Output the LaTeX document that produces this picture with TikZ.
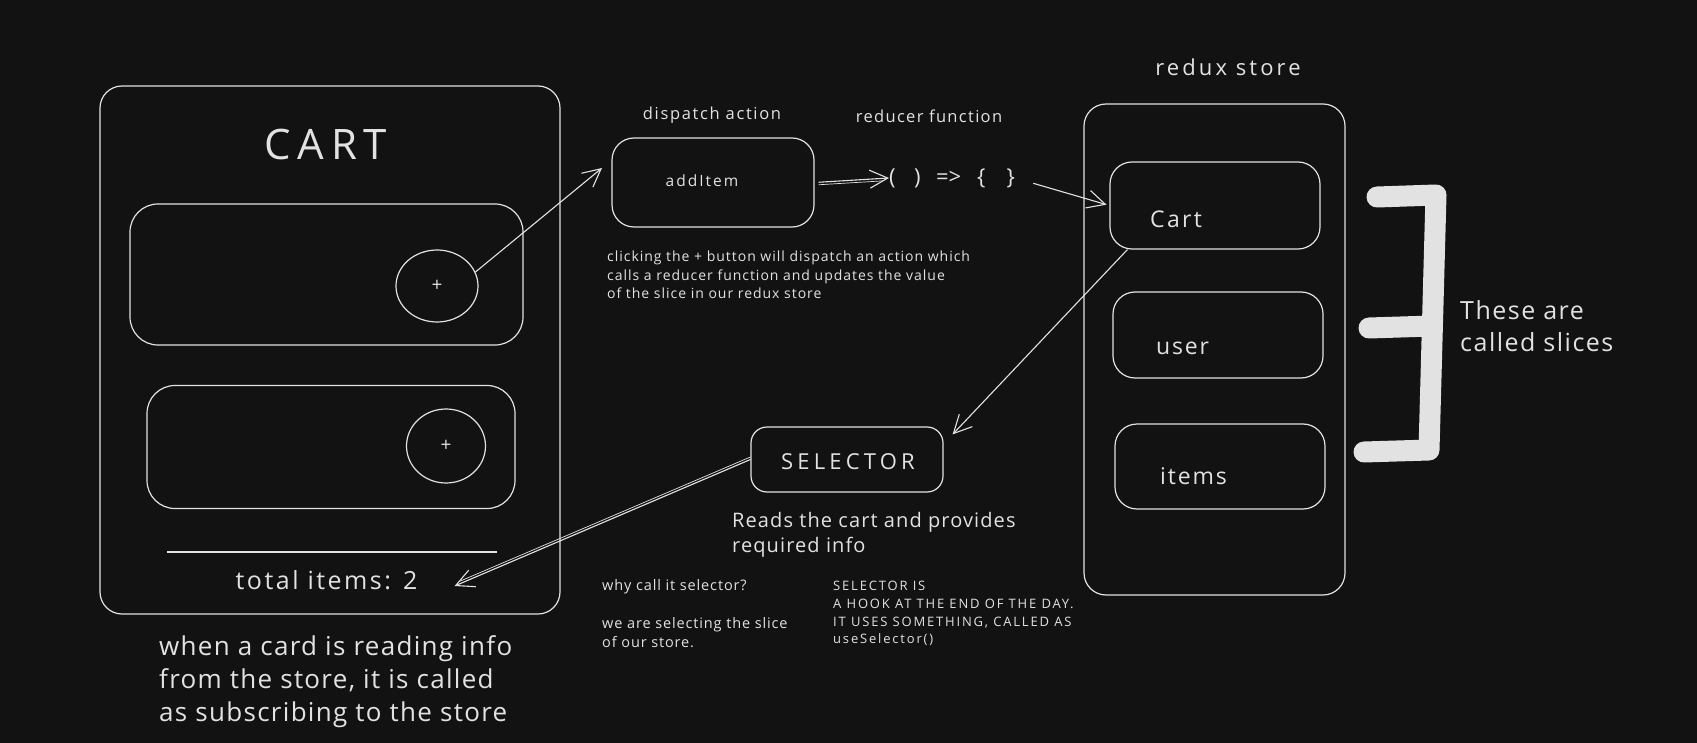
\documentclass[tikz,border=0pt]{standalone}
\usepackage{fontspec}
\setmainfont{Open Sans}
\usetikzlibrary{arrows.meta,shapes.geometric}
\definecolor{bg}{HTML}{121212}
\definecolor{ink}{HTML}{E2E2E2}
\newcommand{\fsz}[3]{\fontsize{#1}{#2}\selectfont\addfontfeatures{LetterSpace=#3}}
\begin{document}
\begin{tikzpicture}[x=1pt,y=-1pt,
  box/.style={draw=ink, line width=1.2pt, rounded corners=22pt, inner sep=0pt},
  ring/.style={draw=ink, line width=1.2pt, ellipse, inner sep=0pt},
  txt/.style={text=ink, inner sep=0pt},
  arr/.style={draw=ink, line width=1.1pt, -{Straight Barb[length=18pt,width=18pt]}},
  ghost/.style={draw=ink, line width=0.7pt},
  brace/.style={draw=ink, line width=21pt, line cap=round, line join=round},
]
\fill[bg] (0,0) rectangle (1697,743);
\useasboundingbox (0,0) rectangle (1697,743);

% cart
\node[box, minimum width=460pt, minimum height=528pt] (cart) at (330,350) {};
\node[txt, font=\fsz{42}{48}{16}] (title) at (326,145) {CART};
\node[box, rounded corners=28pt, minimum width=393pt, minimum height=141pt] (item1) at (326.5,274.5) {};
\node[ring, minimum width=82pt, minimum height=72pt] (c1) at (437,286) {};
\node[txt, font=\fsz{19}{20}{0}] (p1) at (c1) {+};
\node[box, rounded corners=28pt, minimum width=368pt, minimum height=123pt] (item2) at (331,447) {};
\node[ring, minimum width=79pt, minimum height=74pt] (c2) at (446,446) {};
\node[txt, font=\fsz{19}{20}{0}] (p2) at (c2) {+};
\coordinate (l1) at (167,552);
\coordinate (l2) at (497,552);
\draw[ink, line width=1.2pt] (l1) -- (l2);
\node[txt, font=\fsz{25}{28}{10}] (total) at (326.5,580) {total items: 2};
\node[txt, font=\fsz{26}{33}{5}, align=left, anchor=west] (sub) at (159,681.5)
  {when a card is reading info\\from the store, it is called\\as subscribing to the store};

% dispatch
\node[txt, font=\fsz{16.5}{20}{10}] (dal) at (712,115) {dispatch action};
\node[box, minimum width=202pt, minimum height=89pt] (add) at (713,182.5) {};
\node[txt, font=\fsz{15.5}{18}{13}] (addt) at (702,181) {addItem};
\node[txt, font=\fsz{16.5}{20}{8}] (rfl) at (929,116) {reducer function};
\node[txt, font=\fsz{22}{26}{0}, anchor=west] (rf) at (889,178)
  {(\hspace{18.4pt})\hspace{15.4pt}=>\hspace{16pt}\{\hspace{21pt}\}};
\node[txt, font=\fsz{14}{18.5}{7}, align=left, anchor=west] (cap) at (607,275)
  {clicking the + button will dispatch an action which\\calls a reducer function and updates the value\\of the slice in our redux store};

% store
\node[txt, font=\fsz{22}{26}{14}] (rsl) at (1228,67) {redux store};
\node[box, minimum width=261pt, minimum height=491pt] (store) at (1214.5,349.5) {};
\node[box, minimum width=210pt, minimum height=87pt] (cs) at (1215,205.5) {};
\node[txt, font=\fsz{23}{26}{10}, anchor=west] (cst) at (1150,219) {Cart};
\node[box, minimum width=210pt, minimum height=86pt] (us) at (1218,335) {};
\node[txt, font=\fsz{23}{26}{8}, anchor=west] (ust) at (1156,348) {user};
\node[box, minimum width=210pt, minimum height=85pt] (is) at (1220,466.5) {};
\node[txt, font=\fsz{23}{26}{8}, anchor=west] (ist) at (1160,476) {items};

% brace
\coordinate (b1) at (1377,197);
\coordinate (b2) at (1436,195);
\coordinate (b3) at (1429,450);
\coordinate (b4) at (1364,452);
\coordinate (b5) at (1369,328);
\coordinate (b6) at (1432,326);
\draw[brace] (b1) -- (b2) -- (b3) -- (b4);
\draw[brace] (b5) -- (b6);
\node[txt, font=\fsz{25}{32}{6}, align=left, anchor=west] (slices) at (1460,326) {These are\\called slices};

% selector
\node[box, rounded corners=16pt, minimum width=192pt, minimum height=65pt] (sel) at (847,459.5) {};
\node[txt, font=\fsz{22}{26}{19}] (selt) at (848,462) {SELECTOR};
\node[txt, font=\fsz{20}{25}{5.5}, align=left, anchor=west] (reads) at (732,534.5) {Reads the cart and provides\\required info};
\node[txt, font=\fsz{14.5}{19}{6}, align=left, anchor=west] (why) at (602,613.5)
  {why call it selector?\\[19pt]we are selecting the slice\\of our store.};
\node[txt, font=\fsz{13}{17.7}{14}, align=left, anchor=west] (hook) at (833,613.5)
  {SELECTOR IS\\A HOOK AT THE END OF THE DAY.\\IT USES SOMETHING, CALLED AS\\useSelector()};

% arrows
\coordinate (t1) at (602,168);
\draw[arr] (c1.20) -- (t1);
\draw[arr, shorten <=4pt] (add.east) -- (rf.west);
\draw[ghost, shorten <=4pt, shorten >=6pt, transform canvas={yshift=-2.5pt}] (add.east) -- (rf.west);
\draw[arr, shorten <=19pt, shorten >=3pt] (rf.east) -- (cs.west);
\draw[arr] ([xshift=18pt]cs.south west) -- ([shift={(9,8)}]sel.north east);
\draw[arr] (sel.west) -- ([shift={(37,6)}]total.east);
\draw[ghost, shorten >=6pt, transform canvas={yshift=2.5pt}] (sel.west) -- ([shift={(37,6)}]total.east);
\end{tikzpicture}
\end{document}
